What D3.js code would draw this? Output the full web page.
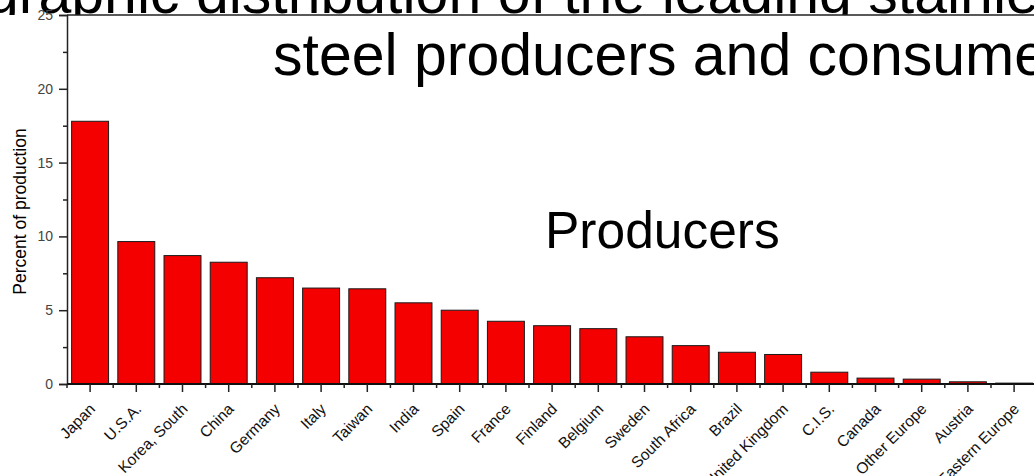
<!DOCTYPE html>
<html>
<head>
<meta charset="utf-8">
<script src="https://cdn.jsdelivr.net/npm/d3@7"></script>
<style>
  html, body { margin: 0; padding: 0; background: #fff; }
  svg { display: block; font-family: "Liberation Sans", Arial, sans-serif; }
</style>
</head>
<body>
<svg id="chart" width="1034" height="476"></svg>
<script>
// ---- data ----
const categories = ["Japan", "U.S.A.", "Korea, South", "China", "Germany", "Italy", "Taiwan",
  "India", "Spain", "France", "Finland", "Belgium", "Sweden", "South Africa", "Brazil",
  "United Kingdom", "C.I.S.", "Canada", "Other Europe", "Austria", "Eastern Europe"];
const percentProduction = [17.8, 9.65, 8.7, 8.25, 7.2, 6.5, 6.45, 5.5, 5.0, 4.25, 3.95,
  3.75, 3.2, 2.6, 2.15, 2.0, 0.8, 0.4, 0.33, 0.15, 0.06];
const yTicks = [0, 5, 10, 15, 20, 25];
const yMinorTicks = [2.5, 7.5, 12.5, 17.5, 22.5];
const titleLine1 = "Geographic distribution of the leading stainless";
const titleLine2 = "steel producers and consumers";
const yAxisTitle = "Percent of production";
const panelLabel = "Producers";

(function () {
// ---- layout ----
const svg = d3.select("#chart");
const W = 1034, H = 476;
const mLeft = 67, mTop = 15, mBottom = 384;
const step = 46.2;
const mRight = mLeft + step * categories.length;

// title line 1 (partly hidden behind the chart image)
svg.append("text")
  .attr("x", -125.5).attr("y", 12.5)
  .attr("font-size", 59).attr("fill", "#000")
  .text(titleLine1);

// white chart background that occludes the title's descenders
svg.append("rect").attr("x", 0).attr("y", mTop).attr("width", W).attr("height", H - mTop)
  .attr("fill", "#fff");

const x = d3.scaleBand().domain(categories).range([mLeft, mRight])
  .paddingInner(0.2).paddingOuter(0.1);
const y = d3.scaleLinear().domain([0, 25]).range([mBottom, mTop]);

// bars
svg.append("g").selectAll("rect").data(categories).join("rect")
  .attr("x", d => x(d))
  .attr("y", (d, i) => y(percentProduction[i]))
  .attr("width", x.bandwidth())
  .attr("height", (d, i) => y(0) - y(percentProduction[i]))
  .attr("fill", "#f50000")
  .attr("stroke", "#1a1a1a")
  .attr("stroke-width", 1);

// top frame line
svg.append("line").attr("x1", mLeft).attr("x2", W + 10).attr("y1", mTop).attr("y2", mTop)
  .attr("stroke", "#222").attr("stroke-width", 1.5);

// y axis
const yAxis = d3.axisLeft(y).tickValues(yTicks).tickSize(8).tickPadding(6)
  .tickFormat(d3.format("d"));
const gy = svg.append("g").attr("transform", `translate(${mLeft},0)`).call(yAxis);
gy.select(".domain").attr("stroke", "#222").attr("stroke-width", 1.5);
gy.selectAll(".tick line").attr("stroke", "#222").attr("stroke-width", 1.5);
gy.selectAll(".tick text").attr("font-size", 14).attr("fill", "#444")
  .attr("font-family", "Liberation Sans, Arial, sans-serif");
const gyMinor = svg.append("g").attr("transform", `translate(${mLeft},0)`)
  .call(d3.axisLeft(y).tickValues(yMinorTicks).tickSize(4).tickFormat(""));
gyMinor.select(".domain").remove();
gyMinor.selectAll(".tick line").attr("stroke", "#222").attr("stroke-width", 1.5);

// x axis (major ticks at category centres)
const xAxis = d3.axisBottom(x).tickSize(8).tickSizeOuter(0).tickFormat("");
const gx = svg.append("g").attr("transform", `translate(0,${mBottom})`).call(xAxis);
gx.select(".domain").attr("d", `M${mLeft},0H${W + 10}`).attr("stroke", "#111").attr("stroke-width", 2);
gx.selectAll(".tick line").attr("stroke", "#222").attr("stroke-width", 1.5);

// minor ticks at category boundaries
const boundaries = d3.range(categories.length + 1).map(i => mLeft + i * x.step());
svg.append("g").selectAll("line").data(boundaries).join("line")
  .attr("x1", d => d).attr("x2", d => d)
  .attr("y1", mBottom).attr("y2", mBottom + 4)
  .attr("stroke", "#222").attr("stroke-width", 1.5);

// rotated category labels
svg.append("g").selectAll("text").data(categories).join("text")
  .attr("transform", d => `translate(${x(d) + x.bandwidth() / 2 + 6},${mBottom + 26}) rotate(-45)`)
  .attr("text-anchor", "end")
  .attr("font-size", 15.5).attr("fill", "#111")
  .text(d => d);

// y axis title
svg.append("text")
  .attr("transform", `translate(26,${(mTop + mBottom) / 2 + 12}) rotate(-90)`)
  .attr("text-anchor", "middle")
  .attr("font-size", 17.5).attr("fill", "#000")
  .text(yAxisTitle);

// title line 2 (on top of the chart)
svg.append("text")
  .attr("x", 273).attr("y", 75)
  .attr("font-size", 59).attr("fill", "#000")
  .text(titleLine2);

// panel label
svg.append("text")
  .attr("x", 545).attr("y", 248)
  .attr("font-size", 51.5).attr("fill", "#000")
  .text(panelLabel);
})();
</script>
</body>
</html>
